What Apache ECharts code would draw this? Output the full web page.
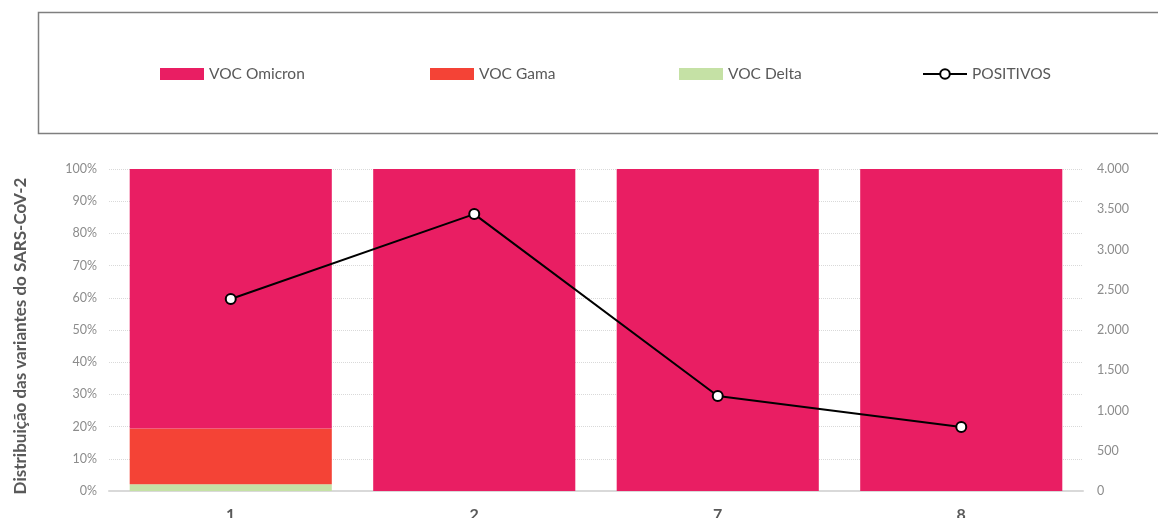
<!DOCTYPE html>
<html>
<head>
<meta charset="utf-8">
<script src="https://cdn.jsdelivr.net/npm/echarts@6/dist/echarts.min.js"></script>
<style>
html,body{margin:0;padding:0;background:#fff;}
#chart{width:1158px;height:518px;}
</style>
</head>
<body>
<div id="chart"></div>
<script>
const categories = ['1', '2', '7', '8'];
const omicron = [80.6, 100, 100, 100];
const gama = [17.3, 0, 0, 0];
const delta = [2.1, 0, 0, 0];
const positivos = [2385, 3440, 1180, 795];
const leftTicks = { min: 0, max: 100, interval: 10 };
const rightTicks = { min: 0, max: 4000, interval: 500 };
const seriesNames = ['VOC Omicron', 'VOC Gama', 'VOC Delta', 'POSITIVOS'];

const FONT = 'Lato';
const chart = echarts.init(document.getElementById('chart'), null, { renderer: 'canvas' });

function fmtThousands(v) {
  return String(v).replace(/\B(?=(\d{3})+(?!\d))/g, '.');
}

const legendLeft = [160, 430, 679, 922];
const legends = seriesNames.map((n, i) => ({
  left: legendLeft[i],
  top: 66,
  padding: 0,
  itemWidth: 44,
  itemHeight: 12,
  textStyle: { fontFamily: FONT, fontSize: 15.5, color: '#595959' },
  data: [i < 3 ? { name: n, icon: 'rect' } : { name: n }]
}));

chart.setOption({
  animation: false,
  backgroundColor: '#ffffff',
  textStyle: { fontFamily: FONT },
  graphic: [{
    type: 'rect',
    shape: { x: 38.5, y: 12.5, width: 1140, height: 121 },
    style: { fill: 'none', stroke: '#7f7f7f', lineWidth: 1.5 },
    silent: true
  }],
  legend: legends,
  grid: { left: 109, right: 75, top: 169, bottom: 27, outerBoundsMode: 'none', containLabel: false },
  xAxis: {
    type: 'category',
    data: categories,
    axisLine: { lineStyle: { color: '#d9d9d9', width: 2 } },
    axisTick: { show: false },
    axisLabel: { fontFamily: FONT, fontSize: 16, fontWeight: 'bold', color: '#595959', margin: 16 }
  },
  yAxis: [{
    type: 'value',
    min: leftTicks.min, max: leftTicks.max, interval: leftTicks.interval,
    name: 'Distribuição das variantes do SARS-CoV-2',
    nameLocation: 'middle',
    nameGap: 80,
    nameTextStyle: { fontFamily: FONT, fontSize: 17, fontWeight: 'bold', color: '#595959', padding: [0, 12, 0, 0] },
    axisLine: { show: false },
    axisTick: { show: false },
    axisLabel: { fontFamily: FONT, fontSize: 12.5, color: '#8c8c8c', margin: 12, formatter: '{value}%' },
    splitLine: { lineStyle: { color: '#d9d9d9', type: 'dotted', width: 1 } }
  }, {
    type: 'value',
    min: rightTicks.min, max: rightTicks.max, interval: rightTicks.interval,
    position: 'right',
    axisLine: { show: false },
    axisTick: { show: false },
    axisLabel: { fontFamily: FONT, fontSize: 12.5, color: '#8c8c8c', margin: 14, formatter: fmtThousands },
    splitLine: { show: false }
  }],
  series: [{
    name: 'VOC Delta', type: 'bar', stack: 'v', data: delta, barWidth: '83%',
    itemStyle: { color: '#c5e1a5' }
  }, {
    name: 'VOC Gama', type: 'bar', stack: 'v', data: gama, barWidth: '83%',
    itemStyle: { color: '#f44336' }
  }, {
    name: 'VOC Omicron', type: 'bar', stack: 'v', data: omicron, barWidth: '83%',
    itemStyle: { color: '#e91e63' }
  }, {
    name: 'POSITIVOS', type: 'line', yAxisIndex: 1, data: positivos,
    symbol: 'circle', symbolSize: 10, z: 5,
    lineStyle: { color: '#000000', width: 2 },
    itemStyle: { color: '#ffffff', borderColor: '#000000', borderWidth: 2 }
  }]
});
</script>
</body>
</html>
